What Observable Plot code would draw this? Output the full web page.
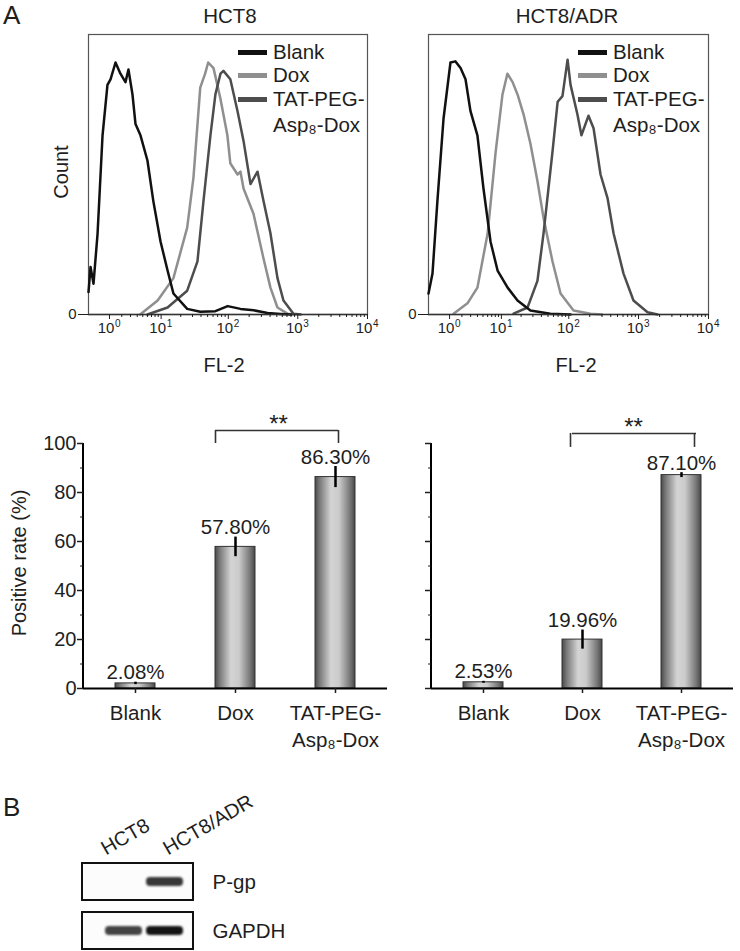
<!DOCTYPE html>
<html><head><meta charset="utf-8">
<script src="https://cdn.jsdelivr.net/npm/d3@7"></script>
<script src="https://cdn.jsdelivr.net/npm/@observablehq/plot@0.6"></script>
<style>
body{margin:0;background:#fff;}
#fig{position:relative;width:740px;height:951px;font-family:"Liberation Sans",Arial,sans-serif;color:#1e1e1e;overflow:hidden;background:#fff;}
.abs{position:absolute;white-space:nowrap;line-height:1;}
.sw{position:absolute;height:5px;width:29px;}
</style></head><body><div id="fig"></div>
<script>
// ---------- DATA ----------
const seriesNames = ["Blank", "Dox", "TAT-PEG-Asp₈-Dox"];
const seriesColors = ["#111111", "#8f8f8f", "#4d4d4d"];
const cellLines = ["HCT8", "HCT8/ADR"];

// flow-cytometry histograms: [FL-2 intensity, count (% of scale)]
const hct8Blank = [[0,8],[0.07,17],[0.18,11],[0.35,29],[0.59,64],[0.87,82],[1.07,84],[1.44,90],[1.87,86],[2.39,83],[2.74,87.5],[3.27,78.6],[3.72,68],[4.56,64],[6.0,55],[7.5,40.5],[9.8,26],[12.6,15.7],[15.5,7.5],[25,2],[39,1],[65,1.2],[98,3],[150,2],[232,1.5],[368,0.5],[565,0.2],[800,0]];
const hct8Dox   = [[4.5,0],[8.8,5],[15.5,13],[25,31],[31,49],[39,81],[46,86],[51,90],[61,88],[77,77],[97,64],[107,54],[136,50],[150,51],[166,45],[231,36],[322,20],[405,9.6],[511,2.5],[711,0.3],[900,0]];
const hct8Tat   = [[6,0],[12.6,2.5],[25,8.5],[35.5,19],[43.5,40.5],[55,64],[65,78.6],[77,86],[85,87],[107,84],[136,72.6],[166,62],[209,46.6],[264,51],[322,40.5],[405,29],[511,13],[623,5],[867,0.3],[1100,0]];
const adrBlank  = [[0,7.5],[0.14,14.6],[0.34,40.5],[0.64,70],[1.06,90],[1.43,90.4],[1.87,88],[2.38,84],[2.98,72.6],[4.0,64],[5.1,45],[6.7,26],[8.7,15.7],[12.5,9.6],[17.7,5],[27.6,1.4],[54,0.3],[106,0]];
const adrDox    = [[1.28,0.3],[2.6,4],[4.0,9.6],[6.0,29],[8.1,58],[10.4,78.6],[12.4,86],[14.9,83],[17.7,78.6],[21.8,71.5],[27.6,61],[35,47.7],[43,34.5],[58,19],[76,7.5],[117,1.4],[205,0.3],[300,0]];
const adrTat    = [[15.4,0.3],[25,2.5],[35,12],[43,29],[58,58],[69,76],[81,78],[96,91],[106,82],[133,71.5],[152,64],[192,71],[227,66.5],[286,50],[360,41.6],[439,29],[610,14.6],[847,5],[1344,0.8],[1870,0]];
const decadeTicks = [1, 10, 100, 1000, 10000];

// positive rate bars
const groups = ["Blank", "Dox", "TAT-PEG-Asp₈-Dox"];
const hct8Rate = [2.08, 57.80, 86.30];
const hct8Err  = [0.5, 4.0, 4.3];
const adrRate  = [2.53, 19.96, 87.10];
const adrErr   = [0.4, 3.9, 1.0];
const sigText  = "**";
const sigLevel = [105.3, 104.1];
const sigBase  = [100, 98.4];
const rateTicks = [0, 20, 40, 60, 80, 100];
const rateMinor = [10, 30, 50, 70, 90];

// western blot
const lanes = ["HCT8", "HCT8/ADR"];
const proteins = ["P-gp", "GAPDH"];
const bandIntensity = [[0, 0.85], [0.8, 1.0]];

// ---------- HELPERS ----------
const fig = document.getElementById("fig");
const FONT = '"Liberation Sans", Arial, sans-serif';
const INK = "#1e1e1e";
function place(node, left, top) {
  node.style.position = "absolute";
  node.style.left = left + "px";
  node.style.top = top + "px";
  fig.appendChild(node);
  return node;
}
function addText(txt, left, top, size, extra = "") {
  const d = document.createElement("div");
  d.className = "abs";
  d.style.cssText += `left:${left}px;top:${top}px;font-size:${size}px;${extra}`;
  d.textContent = txt;
  fig.appendChild(d);
  return d;
}
function centerText(txt, cx, cy, size, rot = 0) {
  return addText(txt, cx, cy, size, `transform:translate(-50%,-50%) rotate(${rot}deg);`);
}
const minorTicks = [];
for (let k = 0; k < 4; k++) for (let m = 2; m < 10; m++) minorTicks.push(m * Math.pow(10, k));

// ---------- HISTOGRAMS ----------
function histogram(curves, w, ml, mr) {
  const order = [1, 2, 0];
  return Plot.plot({
    width: w, height: 352,
    marginLeft: ml, marginRight: mr, marginTop: 34, marginBottom: 38,
    style: {fontFamily: FONT, fontSize: "15px", color: INK, background: "transparent", overflow: "visible"},
    x: {type: "symlog", constant: 1, domain: [0, 10000]},
    y: {domain: [0, 100]},
    marks: [
      Plot.frame({stroke: "#555", strokeWidth: 1.2}),
      ...order.map(i => Plot.line(curves[i], {x: d => d[0], y: d => d[1], stroke: seriesColors[i], strokeWidth: 2.5, strokeLinejoin: "round"})),
      Plot.ruleY([0], {stroke: "#333", strokeWidth: 1.5}),
      Plot.axisX({ticks: decadeTicks, tickSize: 5, tickFormat: () => "", label: null}),
      Plot.axisX({ticks: minorTicks, tickSize: 3, tickFormat: () => "", label: null}),
      Plot.text(decadeTicks, {x: d => d, frameAnchor: "bottom", text: () => "10", dx: -3.5, dy: 18, fontSize: 15}),
      Plot.text(decadeTicks, {x: d => d, frameAnchor: "bottom", text: d => String(Math.round(Math.log10(d))),
                              textAnchor: "start", dx: 5.5, dy: 12, fontSize: 10}),
      Plot.axisY({ticks: [0], tickSize: 10, tickPadding: 2, fontSize: 15, label: null, tickFormat: () => "0"})
    ]
  });
}
place(histogram([hct8Blank, hct8Dox, hct8Tat], 380, 88, 13), 0, 0);
place(histogram([adrBlank, adrDox, adrTat], 370, 58, 32), 370, 0);

addText("A", 3, 2, 26);
centerText(cellLines[0], 230, 16, 20.5);
centerText(cellLines[1], 567, 16, 20.5);
centerText("Count", 61, 172, 20, -90);
centerText("FL-2", 224, 365, 20);
centerText("FL-2", 576, 365, 20);

// legends
[0, 340].forEach(off => {
  const rows = [52, 75, 99];
  seriesNames.forEach((name, i) => {
    const s = document.createElement("div");
    s.className = "sw";
    s.style.left = (238 + off) + "px";
    s.style.top = (rows[i] - 2.5) + "px";
    s.style.background = seriesColors[i];
    fig.appendChild(s);
    if (i < 2) addText(name, 273 + off, rows[i] - 10, 20.5);
    else {
      addText("TAT-PEG-", 273 + off, rows[i] - 10, 20.5);
      addText("Asp₈-Dox", 273 + off, rows[i] + 16, 20.5);
    }
  });
});

// ---------- BAR CHARTS ----------
// layout tweaks per panel: bracket leg offsets / insets and star offset
const bracketLayout = [
  {legDx: [-20, 3], inset: [0, 17], starDx: 43},
  {legDx: [-12, 13], inset: [10, 5], starDx: 51}
];
function barChart(rates, errs, k, w, ml, mr, showLabels, gid) {
  const data = groups.map((g, i) => ({group: g, rate: rates[i], err: errs[i],
    label: d3.format(".2f")(rates[i]) + "%"}));
  const L = bracketLayout[k];
  return Plot.plot({
    width: w, height: 370,
    marginLeft: ml, marginRight: mr, marginTop: 63, marginBottom: 62,
    style: {fontFamily: FONT, fontSize: "20px", color: INK, background: "transparent", overflow: "visible"},
    x: {type: "band", domain: groups, paddingInner: 0.6, paddingOuter: 0.32},
    y: {domain: [0, 100]},
    marks: [
      () => {
        const defs = d3.create("svg:defs");
        const lg = defs.append("linearGradient").attr("id", gid)
          .attr("x1", "0").attr("x2", "1").attr("y1", "0").attr("y2", "0");
        [[0, "#4a4a4a"], [0.12, "#7a7a7a"], [0.4, "#d4d4d4"], [0.6, "#cbcbcb"], [0.88, "#767676"], [1, "#484848"]]
          .forEach(([o, c]) => lg.append("stop").attr("offset", o).attr("stop-color", c));
        return defs.node();
      },
      Plot.barY(data, {x: "group", y: "rate", fill: `url(#${gid})`, stroke: "#333", strokeWidth: 1}),
      Plot.ruleX(data, {x: "group", y1: d => d.rate - d.err, y2: d => d.rate + d.err, stroke: "#000", strokeWidth: 2.5}),
      Plot.ruleY([0], {stroke: "#000", strokeWidth: 2}),
      (index, scales, values, dim) => d3.create("svg:line")
        .attr("x1", dim.marginLeft).attr("x2", dim.marginLeft)
        .attr("y1", dim.marginTop).attr("y2", dim.height - dim.marginBottom)
        .attr("stroke", "#000").attr("stroke-width", 2).node(),
      Plot.axisY({ticks: rateTicks, tickSize: 6, tickPadding: 1, fontSize: 20, label: null, strokeWidth: 1.5,
                  tickFormat: showLabels ? (d => d) : (() => "")}),
      Plot.axisY({ticks: rateMinor, tickSize: 3, label: null, tickFormat: () => ""}),
      Plot.axisX({tickSize: 5, tickPadding: 7.5, fontSize: 20.5, label: null, strokeWidth: 1.5, lineHeight: 1.3,
                  tickFormat: d => d.replace("TAT-PEG-", "TAT-PEG-\n")}),
      Plot.text(data, {x: "group", y: d => d.rate + d.err, text: "label", dy: -3, lineAnchor: "bottom", fontSize: 20.5}),
      // significance bracket
      Plot.ruleX([groups[1]], {x: d => d, y1: sigBase[k], y2: sigLevel[k], dx: L.legDx[0], stroke: "#333", strokeWidth: 1.6}),
      Plot.ruleX([groups[2]], {x: d => d, y1: sigBase[k], y2: sigLevel[k], dx: L.legDx[1], stroke: "#333", strokeWidth: 1.6}),
      Plot.ruleY([sigLevel[k]], {x1: () => groups[1], x2: () => groups[2], insetLeft: L.inset[0], insetRight: L.inset[1],
                                 stroke: "#333", strokeWidth: 1.6}),
      Plot.text([sigText], {x: () => groups[1], y: () => sigLevel[k], text: d => d, dx: L.starDx, dy: -6,
                            lineAnchor: "middle", fontSize: 24})
    ]
  });
}
place(barChart(hct8Rate, hct8Err, 0, 400, 83, 13, true, "barGradA"), 0, 380);
place(barChart(adrRate, adrErr, 1, 370, 61, 7, false, "barGradB"), 370, 380);
centerText("Positive rate (%)", 19, 563, 20, -90);

// ---------- WESTERN BLOT ----------
const bandData = [];
proteins.forEach((p, r) => lanes.forEach((l, c) => bandData.push({protein: p, lane: l, intensity: bandIntensity[r][c]})));
const laneDx = [-18, 3];
const blot = Plot.plot({
  width: 300, height: 171,
  marginLeft: 82, marginRight: 107, marginTop: 82, marginBottom: 2,
  style: {fontFamily: FONT, fontSize: "20px", color: INK, background: "transparent", overflow: "visible"},
  x: {type: "band", domain: lanes, range: [100, 188], padding: 0.1, axis: null},
  y: {type: "band", domain: proteins, paddingInner: 0.25, paddingOuter: 0, axis: null},
  marks: [
    Plot.cell(proteins, {y: d => d, fill: "#fcfcfc", stroke: "#111", strokeWidth: 2}),
    Plot.cell(bandData, {x: "lane", y: "protein", fill: "#141414", fillOpacity: "intensity", insetTop: 14, insetBottom: 14, rx: 4}),
    Plot.text(proteins, {y: d => d, frameAnchor: "right", dx: 19, textAnchor: "start", fontSize: 20.5}),
    ...lanes.map((l, i) => Plot.text([l], {x: d => d, frameAnchor: "top", rotate: -30, textAnchor: "start",
                                            lineAnchor: "bottom", dx: laneDx[i], dy: -7, fontSize: 20}))
  ]
});
d3.select(blot).selectAll('g[aria-label="cell"]').filter((d, i) => i === 1).style("filter", "blur(1.3px)");
place(blot, 0, 780);
addText("B", 3, 794, 26);
</script></body></html>
